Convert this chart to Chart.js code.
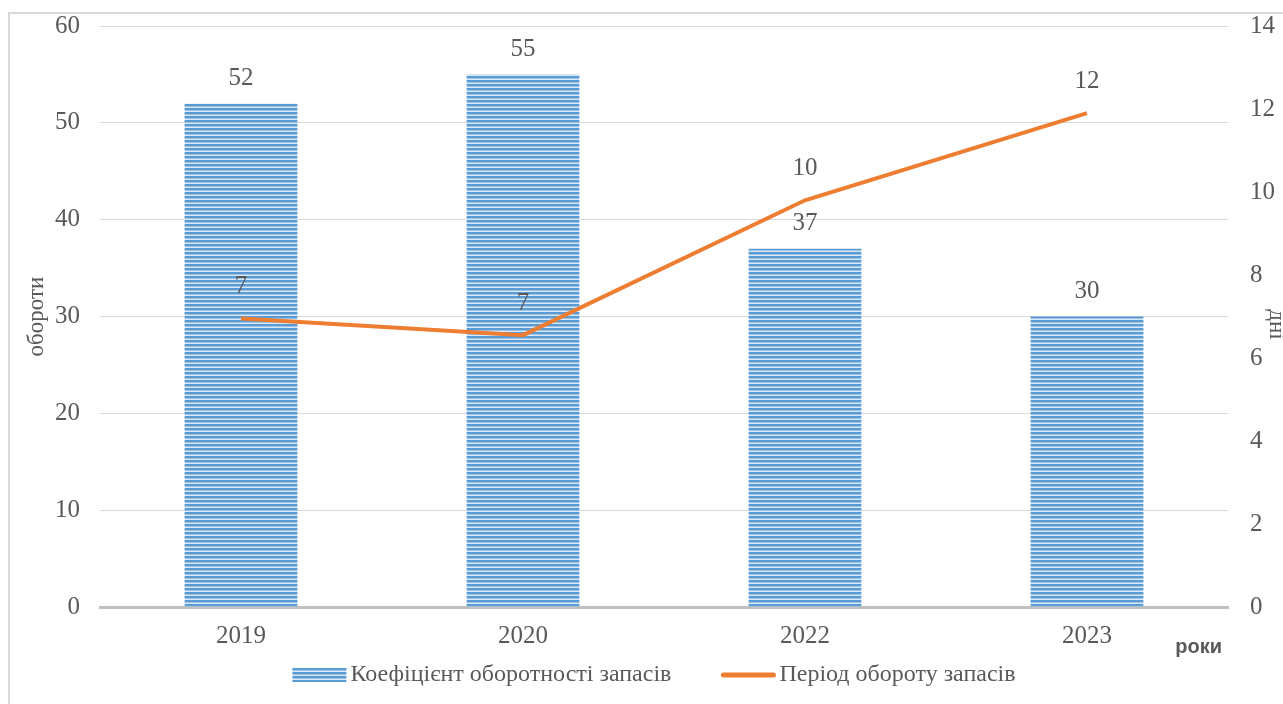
<!DOCTYPE html>
<html>
<head>
<meta charset="utf-8">
<script src="https://cdn.jsdelivr.net/npm/chart.js@4.4.1/dist/chart.umd.min.js"></script>
<style>
  html, body { margin: 0; padding: 0; background: #fff; }
  #wrap { position: relative; width: 1283px; height: 704px; overflow: hidden; }
  #frame { position: absolute; left: 8px; top: 12px; width: 1300px; height: 720px;
           border-left: 2px solid #d9d9d9; border-top: 2px solid #d9d9d9; }
  #myChart { position: absolute; left: 0; top: 0; }
</style>
</head>
<body>
<div id="wrap">
  <div id="frame"></div>
  <canvas id="myChart" width="1283" height="704"></canvas>
</div>
<script>
const years = ['2019', '2020', '2022', '2023'];
const turnoverRatio = [52, 55, 37, 30];         // обороти
const turnoverPeriod = [6.95, 6.55, 9.8, 11.9]; // дні
const seriesNames = ['Коефіцієнт оборотності запасів', 'Період обороту запасів'];
const axisTitles = { left: 'обороти', right: 'дні', bottom: 'роки' };

const textColor = '#595959';
const orange = '#ed7d31';
const serif = "'Liberation Serif', 'Times New Roman', serif";

// horizontal stripes for the bars
function stripes(){
    const c = document.createElement('canvas');
    c.width = 4; c.height = 4;
    const g = c.getContext('2d');
    g.fillStyle = '#5b9bd5'; g.fillRect(0, 0, 4, 2);
    g.fillStyle = '#9dc3e6'; g.fillRect(0, 2, 4, 1);
    g.fillStyle = '#dbe9f6'; g.fillRect(0, 3, 4, 1);
    return g.createPattern(c, 'repeat');
}
const barFill = stripes();

// value labels above bars and line points
const valueLabels = {
    id: 'valueLabels',
    afterDatasetsDraw(chart){
        const ctx = chart.ctx;
        ctx.save();
        ctx.font = '25px ' + serif;
        ctx.fillStyle = textColor;
        ctx.textAlign = 'center';
        ctx.textBaseline = 'middle';
        chart.data.datasets.forEach((ds, i) => {
            const meta = chart.getDatasetMeta(i);
            const lift = ds.type === 'bar' ? 25 : 32;
            meta.data.forEach((el, j) => {
                ctx.fillText(Math.round(ds.data[j]), el.x, el.y - lift);
            });
        });
        ctx.restore();
    }
};

// axis titles and the legend row
const decorations = {
    id: 'decorations',
    afterDraw(chart){
        const ctx = chart.ctx;
        const area = chart.chartArea;
        const midY = (area.top + area.bottom) / 2;
        ctx.save();
        ctx.fillStyle = textColor;
        ctx.textAlign = 'center';
        ctx.textBaseline = 'middle';
        ctx.font = '23px ' + serif;

        ctx.save();
        ctx.translate(37, midY);
        ctx.rotate(-Math.PI / 2);
        ctx.fillText(axisTitles.left, 0, 0);
        ctx.restore();

        ctx.save();
        ctx.translate(1276, midY + 8);
        ctx.rotate(Math.PI / 2);
        ctx.fillText(axisTitles.right, 0, 0);
        ctx.restore();

        ctx.font = "bold 20px 'Liberation Sans', Arial, sans-serif";
        ctx.textAlign = 'right';
        ctx.fillText(axisTitles.bottom, area.right - 6, area.bottom + 40);

        // legend
        ctx.font = '24px ' + serif;
        ctx.textAlign = 'left';
        const swatch = 54, gap = 4, spacing = 50, ly = 675;
        const w0 = ctx.measureText(seriesNames[0]).width;
        const w1 = ctx.measureText(seriesNames[1]).width;
        let x = 654 - (swatch * 2 + gap * 2 + spacing + w0 + w1) / 2;
        ctx.fillStyle = barFill;
        ctx.fillRect(x, ly - 7, swatch, 14);
        ctx.fillStyle = textColor;
        ctx.fillText(seriesNames[0], x + swatch + gap, ly);
        x += swatch + gap + w0 + spacing;
        ctx.strokeStyle = orange;
        ctx.lineWidth = 5;
        ctx.lineCap = 'round';
        ctx.beginPath();
        ctx.moveTo(x + 2, ly);
        ctx.lineTo(x + swatch - 2, ly);
        ctx.stroke();
        ctx.fillText(seriesNames[1], x + swatch + gap, ly);
        ctx.restore();
    }
};

// vertical axes: fixed width, no extra room above the top tick
function fitY(width){
    return scale => {
        scale.width = width;
        scale.paddingTop = 0;
        scale.paddingBottom = 0;
    };
}

const ctx = document.getElementById('myChart').getContext('2d');
const chart = new Chart(ctx, {
    data: {
        labels: years,
        datasets: [{
            type: 'line',
            label: seriesNames[1],
            data: turnoverPeriod,
            yAxisID: 'y1',
            borderColor: orange,
            backgroundColor: orange,
            borderWidth: 4,
            pointRadius: 0,
            tension: 0
        }, {
            type: 'bar',
            label: seriesNames[0],
            data: turnoverRatio,
            yAxisID: 'y',
            backgroundColor: barFill,
            borderWidth: 0,
            categoryPercentage: 1,
            barPercentage: 0.4
        }]
    },
    options: {
        responsive: false,
        animation: false,
        layout: { padding: { left: 0, right: 0, top: 26, bottom: 51 } },
        plugins: {
            tooltip: { enabled: false },
            legend: { display: false }
        },
        scales: {
            x: {
                grid: { display: false },
                border: { color: '#bfbfbf', width: 3 },
                ticks: { color: textColor, font: { family: serif, size: 25 }, padding: 6 },
                afterFit(scale){ scale.height = 46; scale.paddingLeft = 0; scale.paddingRight = 0; }
            },
            y: {
                position: 'left',
                min: 0, max: 60,
                ticks: { stepSize: 10, color: textColor, font: { family: serif, size: 25 }, padding: 20 },
                grid: { color: '#d9d9d9', lineWidth: 1, drawTicks: false },
                border: { display: false },
                afterFit: fitY(100)
            },
            y1: {
                position: 'right',
                min: 0, max: 14,
                ticks: { stepSize: 2, color: textColor, font: { family: serif, size: 25 }, padding: 22 },
                grid: { display: false, drawTicks: false },
                border: { display: false },
                afterFit: fitY(55)
            }
        }
    },
    plugins: [valueLabels, decorations]
});
</script>
</body>
</html>
